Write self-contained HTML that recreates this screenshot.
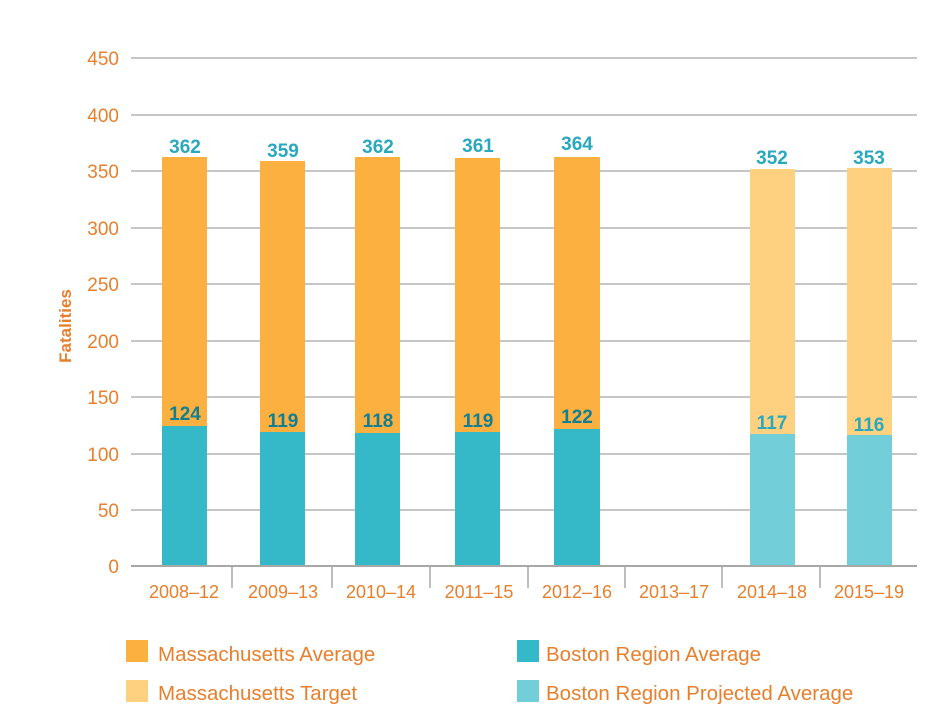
<!DOCTYPE html>
<html><head><meta charset="utf-8"><style>
body{margin:0;background:#fff;}
svg{display:block;font-family:"Liberation Sans",sans-serif;}
</style></head><body>
<svg width="951" height="728" xmlns="http://www.w3.org/2000/svg">
<g stroke="#b3b3b3" stroke-width="1.5">
<line x1="131" x2="917" y1="58" y2="58"/><line x1="131" x2="917" y1="115" y2="115"/>
<line x1="131" x2="917" y1="171" y2="171"/><line x1="131" x2="917" y1="228" y2="228"/>
<line x1="131" x2="917" y1="284" y2="284"/><line x1="131" x2="917" y1="341" y2="341"/>
<line x1="131" x2="917" y1="397" y2="397"/><line x1="131" x2="917" y1="454" y2="454"/>
<line x1="131" x2="917" y1="510" y2="510"/>
</g>
<g fill="#e87f2c" font-size="19" text-anchor="end">
<text x="119" y="65">450</text><text x="119" y="122">400</text><text x="119" y="178">350</text>
<text x="119" y="235">300</text><text x="119" y="291">250</text><text x="119" y="348">200</text>
<text x="119" y="404">150</text><text x="119" y="461">100</text><text x="119" y="517">50</text>
<text x="119" y="573">0</text>
</g>
<text transform="translate(71,326) rotate(-90)" fill="#e87f2c" font-size="17" font-weight="bold" text-anchor="middle">Fatalities</text>
<g>
<rect x="162" y="157" width="45" height="409" fill="#fbb040"/><rect x="162" y="426" width="45" height="140" fill="#35b8c8"/>
<rect x="260" y="161" width="45" height="405" fill="#fbb040"/><rect x="260" y="432" width="45" height="134" fill="#35b8c8"/>
<rect x="355" y="157" width="45" height="409" fill="#fbb040"/><rect x="355" y="433" width="45" height="133" fill="#35b8c8"/>
<rect x="455" y="158" width="45" height="408" fill="#fbb040"/><rect x="455" y="432" width="45" height="134" fill="#35b8c8"/>
<rect x="554" y="157" width="46" height="409" fill="#fbb040"/><rect x="554" y="429" width="46" height="137" fill="#35b8c8"/>
<rect x="750" y="169" width="45" height="397" fill="#fdd17f"/><rect x="750" y="434" width="45" height="132" fill="#72ced9"/>
<rect x="847" y="168" width="45" height="398" fill="#fdd17f"/><rect x="847" y="435" width="45" height="131" fill="#72ced9"/>
</g>
<g fill="#2aa9bd" font-size="19" font-weight="bold" text-anchor="middle">
<text x="185" y="153">362</text><text x="283" y="157">359</text><text x="378" y="153">362</text>
<text x="478" y="152">361</text><text x="577" y="150">364</text><text x="772" y="164">352</text><text x="869" y="164">353</text>
</g>
<g fill="#107f93" font-size="19" font-weight="bold" text-anchor="middle">
<text x="185" y="420">124</text><text x="283" y="427">119</text><text x="378" y="427">118</text>
<text x="478" y="427">119</text><text x="577" y="423">122</text>
</g>
<g fill="#2aa9bd" font-size="19" font-weight="bold" text-anchor="middle">
<text x="772" y="429">117</text><text x="869" y="431">116</text>
</g>
<line x1="131" x2="917" y1="566" y2="566" stroke="#a8a8a8" stroke-width="2"/>
<g stroke="#a8a8a8" stroke-width="1.5">
<line x1="232" x2="232" y1="566" y2="588"/><line x1="332" x2="332" y1="566" y2="588"/>
<line x1="430" x2="430" y1="566" y2="588"/><line x1="528" x2="528" y1="566" y2="588"/>
<line x1="625" x2="625" y1="566" y2="588"/><line x1="722" x2="722" y1="566" y2="588"/>
<line x1="820" x2="820" y1="566" y2="588"/>
</g>
<g fill="#e87f2c" font-size="18" text-anchor="middle">
<text x="184" y="598">2008–12</text><text x="283" y="598">2009–13</text><text x="381" y="598">2010–14</text>
<text x="479" y="598">2011–15</text><text x="577" y="598">2012–16</text><text x="674" y="598">2013–17</text>
<text x="772" y="598">2014–18</text><text x="869" y="598">2015–19</text>
</g>
<rect x="126" y="640" width="22" height="22" fill="#fbb040"/>
<rect x="126" y="680" width="22" height="22" fill="#fdd17f"/>
<rect x="517" y="640" width="22" height="22" fill="#35b8c8"/>
<rect x="517" y="680" width="22" height="22" fill="#72ced9"/>
<g fill="#e87f2c" font-size="20.5">
<text x="158" y="661">Massachusetts Average</text>
<text x="158" y="700">Massachusetts Target</text>
<text x="546" y="661">Boston Region Average</text>
<text x="546" y="700">Boston Region Projected Average</text>
</g>
</svg>
</body></html>
